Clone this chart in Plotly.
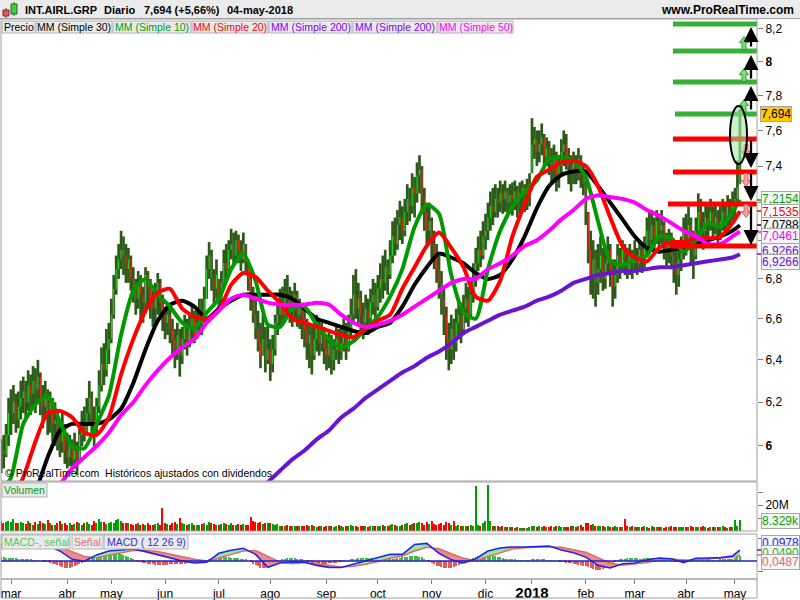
import numpy as np
import pandas as pd
import plotly.graph_objects as go

# ---------------------------------------------------------------- data
holidays = ['2017-04-14', '2017-04-17', '2017-05-01', '2017-12-25', '2017-12-26',
            '2018-01-01', '2018-03-30', '2018-04-02', '2018-05-01']
dates = [d for d in pd.bdate_range('2017-02-23', '2018-05-04')
         if d.strftime('%Y-%m-%d') not in holidays]

month_labels = ['mar', 'abr', 'may', 'jun', 'jul', 'ago', 'sep', 'oct', 'nov', 'dic',
                '<span style="font-size:15px"><b>2018</b></span>', 'feb', 'mar', 'abr', 'may']

close = [
    5.98, 5.96, 6.05, 6.15,
    6.15, 6.20, 6.12, 6.18, 6.22, 6.25, 6.20, 6.28, 6.24, 6.30, 6.26, 6.32, 6.22, 6.18, 6.24, 6.15, 6.20, 6.10, 6.12, 6.05, 6.02, 6.08, 5.98,
    5.95, 6.00, 5.94, 5.98, 5.92, 6.05, 6.10, 6.06, 6.15, 6.22, 6.12, 6.08, 6.18, 6.28, 6.38, 6.35, 6.45, 6.50,
    6.62, 6.75, 6.85, 6.90, 6.95, 6.92, 6.85, 6.90, 6.80, 6.75, 6.70, 6.78, 6.72, 6.68, 6.82, 6.75, 6.70, 6.65, 6.72, 6.78, 6.68, 6.62,
    6.58, 6.62, 6.55, 6.50, 6.45, 6.52, 6.42, 6.50, 6.56, 6.48, 6.55, 6.60, 6.52, 6.58, 6.65, 6.60, 6.70, 6.85, 6.92, 6.80, 6.75, 6.82,
    6.70, 6.78, 6.88, 6.85, 6.95, 6.98, 6.92, 7.00, 6.95, 6.90, 6.98, 6.88, 6.80, 6.70, 6.62, 6.55, 6.48, 6.42, 6.50, 6.40, 6.45,
    6.38, 6.45, 6.58, 6.62, 6.68, 6.62, 6.72, 6.70, 6.65, 6.68, 6.72, 6.62, 6.66, 6.60, 6.55, 6.48, 6.52, 6.42, 6.50, 6.55, 6.48, 6.52, 6.45,
    6.42, 6.48, 6.40, 6.45, 6.50, 6.44, 6.48, 6.52, 6.45, 6.55, 6.62, 6.72, 6.65, 6.70, 6.62, 6.58, 6.65, 6.60, 6.68, 6.72, 6.66,
    6.75, 6.80, 6.78, 6.86, 6.82, 6.92, 7.02, 6.98, 7.08, 7.12, 7.05, 7.15, 7.22, 7.18, 7.28, 7.25, 7.35, 7.38, 7.22, 7.15, 7.05, 7.10,
    6.98, 6.92, 6.85, 6.78, 6.70, 6.62, 6.50, 6.45, 6.55, 6.48, 6.58, 6.62, 6.55, 6.65, 6.70, 6.62, 6.72, 6.80, 6.88, 6.95, 6.92, 7.02,
    7.05, 7.12, 7.18, 7.15, 7.22, 7.20, 7.25, 7.22, 7.26, 7.20, 7.24, 7.22, 7.26, 7.21, 7.25, 7.28, 7.24, 7.27, 7.30,
    7.52, 7.55, 7.48, 7.52, 7.56, 7.45, 7.50, 7.42, 7.38, 7.45, 7.35, 7.40, 7.48, 7.52, 7.45, 7.40, 7.36, 7.42, 7.38, 7.44, 7.35, 7.30,
    7.15, 6.95, 6.82, 6.90, 6.78, 6.85, 6.92, 6.80, 6.88, 6.95, 6.85, 6.76, 6.82, 6.92, 6.88, 6.95, 6.90, 6.85, 6.92, 6.88,
    6.92, 6.88, 6.95, 6.90, 6.96, 7.05, 7.00, 7.08, 7.02, 7.10, 7.05, 7.08, 6.98, 6.95, 7.00, 6.92, 6.88, 6.82, 6.90, 6.95, 7.05,
    7.00, 7.08, 6.98, 6.92, 7.05, 7.15, 7.10, 7.05, 7.12, 7.10, 7.15, 7.08, 7.12, 7.06, 7.10, 7.15, 7.12, 7.18, 7.16, 7.20,
    7.22, 7.282, 7.694,
]
high = [
    6.03, 6.05, 6.10, 6.22,
    6.26, 6.28, 6.24, 6.25, 6.30, 6.32, 6.30, 6.35, 6.33, 6.37, 6.36, 6.40, 6.34, 6.28, 6.30, 6.26, 6.25, 6.22, 6.20, 6.16, 6.12, 6.15, 6.10,
    6.06, 6.05, 6.03, 6.06, 6.02, 6.10, 6.16, 6.18, 6.22, 6.30, 6.25, 6.18, 6.22, 6.35, 6.46, 6.48, 6.55, 6.58,
    6.70, 6.82, 6.92, 6.98, 7.05, 7.02, 6.98, 6.96, 6.92, 6.86, 6.80, 6.84, 6.82, 6.76, 6.86, 6.84, 6.80, 6.74, 6.78, 6.83, 6.80, 6.72,
    6.66, 6.68, 6.65, 6.60, 6.55, 6.58, 6.55, 6.56, 6.62, 6.60, 6.62, 6.66, 6.64, 6.65, 6.70, 6.70, 6.76, 6.92, 6.99, 6.95, 6.85, 6.90,
    6.80, 6.84, 6.95, 6.98, 7.00, 7.06, 7.04, 7.05, 7.03, 7.00, 7.04, 6.98, 6.90, 6.84, 6.76, 6.70, 6.64, 6.58, 6.62, 6.56, 6.58,
    6.50, 6.52, 6.62, 6.70, 6.75, 6.76, 6.80, 6.82, 6.76, 6.74, 6.78, 6.74, 6.70, 6.68, 6.65, 6.60, 6.58, 6.56, 6.58, 6.62, 6.60, 6.58, 6.56,
    6.52, 6.55, 6.52, 6.50, 6.57, 6.55, 6.56, 6.60, 6.58, 6.62, 6.70, 6.82, 6.85, 6.78, 6.74, 6.68, 6.72, 6.70, 6.75, 6.80, 6.78,
    6.82, 6.88, 6.92, 6.95, 6.90, 7.00, 7.10, 7.12, 7.16, 7.21, 7.18, 7.22, 7.30, 7.28, 7.36, 7.34, 7.42, 7.46, 7.40, 7.28, 7.18, 7.20,
    7.12, 7.05, 6.98, 6.92, 6.84, 6.76, 6.66, 6.58, 6.62, 6.60, 6.65, 6.70, 6.68, 6.72, 6.78, 6.76, 6.80, 6.88, 6.96, 7.02, 7.05, 7.10,
    7.14, 7.20, 7.26, 7.28, 7.30, 7.28, 7.32, 7.30, 7.32, 7.28, 7.30, 7.31, 7.32, 7.29, 7.31, 7.32, 7.30, 7.33, 7.36,
    7.67, 7.62, 7.60, 7.60, 7.64, 7.58, 7.56, 7.54, 7.50, 7.52, 7.48, 7.46, 7.55, 7.60, 7.58, 7.50, 7.46, 7.48, 7.46, 7.50, 7.46, 7.40,
    7.32, 7.15, 7.05, 7.00, 6.95, 6.98, 7.02, 6.96, 6.95, 7.02, 6.98, 6.90, 6.90, 6.98, 6.96, 7.00, 6.98, 6.96, 6.98, 6.95,
    7.00, 6.96, 7.00, 6.98, 7.02, 7.12, 7.15, 7.16, 7.12, 7.16, 7.14, 7.16, 7.10, 7.04, 7.06, 7.04, 6.98, 6.95, 6.98, 7.02, 7.12,
    7.14, 7.18, 7.12, 7.05, 7.12, 7.25, 7.22, 7.15, 7.20, 7.18, 7.22, 7.18, 7.20, 7.16, 7.18, 7.22, 7.20, 7.24, 7.22, 7.26,
    7.28, 7.43, 7.72,
]
low = [
    5.88, 5.90, 5.95, 6.00,
    6.05, 6.10, 6.06, 6.08, 6.12, 6.15, 6.12, 6.16, 6.14, 6.18, 6.15, 6.20, 6.14, 6.08, 6.12, 6.05, 6.06, 6.02, 6.00, 5.98, 5.95, 5.97, 5.92,
    5.90, 5.91, 5.89, 5.90, 5.87, 5.93, 6.00, 6.02, 6.05, 6.10, 6.06, 6.00, 6.05, 6.15, 6.25, 6.28, 6.32, 6.38,
    6.48, 6.60, 6.72, 6.80, 6.85, 6.82, 6.78, 6.78, 6.74, 6.68, 6.62, 6.65, 6.60, 6.58, 6.64, 6.66, 6.60, 6.56, 6.58, 6.62, 6.60, 6.54,
    6.50, 6.52, 6.48, 6.42, 6.36, 6.40, 6.32, 6.38, 6.45, 6.42, 6.46, 6.50, 6.48, 6.50, 6.54, 6.52, 6.58, 6.70, 6.80, 6.74, 6.66, 6.70,
    6.64, 6.66, 6.75, 6.78, 6.84, 6.90, 6.86, 6.90, 6.88, 6.84, 6.88, 6.82, 6.74, 6.64, 6.58, 6.50, 6.44, 6.36, 6.42, 6.34, 6.38,
    6.30, 6.34, 6.42, 6.52, 6.56, 6.58, 6.60, 6.62, 6.58, 6.56, 6.60, 6.56, 6.55, 6.50, 6.46, 6.40, 6.36, 6.33, 6.40, 6.44, 6.42, 6.44, 6.38,
    6.35, 6.36, 6.33, 6.35, 6.40, 6.38, 6.40, 6.44, 6.40, 6.44, 6.50, 6.58, 6.60, 6.58, 6.54, 6.50, 6.55, 6.52, 6.56, 6.62, 6.60,
    6.64, 6.68, 6.70, 6.74, 6.72, 6.80, 6.88, 6.92, 6.95, 7.00, 6.98, 7.02, 7.08, 7.10, 7.14, 7.12, 7.20, 7.25, 7.15, 7.05, 6.98, 6.98,
    6.90, 6.85, 6.78, 6.70, 6.62, 6.52, 6.40, 6.35, 6.38, 6.40, 6.44, 6.50, 6.48, 6.52, 6.58, 6.56, 6.60, 6.68, 6.76, 6.84, 6.86, 6.90,
    6.95, 7.00, 7.05, 7.08, 7.12, 7.12, 7.15, 7.14, 7.15, 7.12, 7.14, 7.13, 7.16, 7.12, 7.14, 7.16, 7.15, 7.16, 7.18,
    7.36, 7.44, 7.40, 7.42, 7.46, 7.40, 7.40, 7.35, 7.30, 7.32, 7.26, 7.28, 7.34, 7.40, 7.38, 7.30, 7.26, 7.30, 7.30, 7.32, 7.28, 7.24,
    7.08, 6.88, 6.72, 6.70, 6.66, 6.72, 6.78, 6.74, 6.75, 6.82, 6.76, 6.66, 6.70, 6.78, 6.80, 6.84, 6.82, 6.80, 6.82, 6.80,
    6.84, 6.82, 6.84, 6.83, 6.85, 6.92, 6.94, 6.96, 6.95, 6.98, 6.96, 6.98, 6.90, 6.86, 6.88, 6.85, 6.78, 6.72, 6.76, 6.84, 6.90,
    6.92, 6.95, 6.88, 6.80, 6.90, 7.00, 7.02, 6.95, 7.00, 7.02, 7.05, 7.00, 7.03, 6.98, 7.00, 7.05, 7.04, 7.06, 7.08, 7.10,
    7.12, 7.20, 7.30,
]
volume_m = [
    7.5, 6.0, 6.8, 8.0,
    7.0, 9.2, 6.5, 5.8, 7.2, 6.0, 5.5, 8.0, 6.2, 5.0, 6.8, 5.5, 7.5, 6.0, 5.2, 8.2, 6.5, 5.0, 4.8, 6.0, 7.8, 5.5, 6.2,
    5.0, 6.5, 4.8, 5.5, 7.2, 6.0, 4.5, 5.8, 6.6, 5.2, 4.9, 7.5, 5.8, 9.0, 6.8, 7.0, 5.5, 6.2,
    7.0, 6.5, 8.5, 9.5, 7.8, 6.2, 5.8, 6.5, 5.2, 4.8, 5.5, 6.0, 4.5, 5.2, 4.8, 6.0, 5.0, 4.6, 5.4, 6.2, 5.0, 18.0,
    6.5, 5.2, 4.8, 6.0, 7.2, 5.5, 10.0, 6.0, 5.2, 4.8, 5.5, 6.2, 4.6, 5.0, 4.8, 5.5, 6.5, 5.0, 7.0, 6.2, 5.5, 4.8,
    4.5, 5.2, 6.0, 5.5, 4.8, 6.2, 5.0, 4.5, 5.6, 4.8, 5.2, 4.6, 5.0, 11.0, 7.5, 6.8, 6.0, 7.2, 5.5, 6.5, 5.8,
    6.0, 5.2, 4.8, 5.5, 4.2, 4.0, 3.8, 4.5, 3.6, 4.0, 3.5, 3.8, 4.2, 3.6, 3.9, 4.5, 3.8, 4.8, 3.5, 3.2, 3.6, 4.0, 3.4,
    3.8, 4.2, 3.5, 3.2, 3.9, 4.4, 3.6, 3.3, 4.0, 3.8, 5.0, 4.2, 3.6, 3.4, 3.8, 4.0, 3.5, 3.2, 3.6, 4.1, 3.9,
    4.2, 3.8, 4.5, 3.6, 4.0, 4.8, 5.2, 4.5, 4.0, 3.8, 4.6, 5.5, 6.0, 4.8, 5.2, 5.8, 6.5, 7.0, 6.2, 5.0, 6.8, 5.5,
    8.0, 5.5, 4.8, 5.2, 6.0, 4.5, 6.8, 6.0, 5.0, 8.0, 4.2, 4.5, 3.6, 4.0, 3.5, 3.8, 4.6, 4.0, 35.0, 4.5, 3.8, 6.0,
    7.8, 35.5, 8.0, 4.2, 3.5, 3.8, 3.2, 3.6, 3.0, 3.4, 2.8, 3.2, 2.6, 3.0, 2.5, 2.2, 2.0, 2.4, 2.8,
    3.5, 4.0, 3.2, 3.6, 3.0, 3.8, 3.2, 2.8, 3.5, 3.0, 3.6, 4.0, 3.2, 2.8, 3.4, 3.0, 4.2, 3.5, 3.0, 3.8, 4.5, 3.2,
    6.0, 6.5, 4.8, 5.2, 4.2, 3.8, 3.5, 4.0, 3.2, 3.6, 3.0, 3.4, 3.8, 3.2, 2.8, 3.0, 9.0, 3.5, 3.2, 3.6,
    3.4, 3.0, 2.8, 3.2, 3.5, 3.0, 2.6, 3.8, 3.2, 2.8, 3.0, 3.4, 2.6, 2.8, 3.2, 3.6, 3.0, 2.8, 3.2, 3.4, 3.0,
    3.2, 2.8, 3.5, 3.0, 3.4, 2.8, 3.0, 3.6, 3.2, 2.6, 2.8, 3.0, 3.4, 3.2, 2.8, 3.6, 3.0, 2.6, 3.2, 3.4,
    8.5, 3.6, 8.329,
]
macd_hist = [
    0.035, 0.035, 0.03, 0.03,
    0.03, 0.028, 0.025, 0.02, 0.018, 0.015, 0.015, 0.012, 0.01, 0.008, 0.006, 0.004, 0.0, -0.004, -0.008, -0.012, -0.018, -0.025, -0.032, -0.04, -0.048, -0.055, -0.06,
    -0.065, -0.062, -0.058, -0.05, -0.04, -0.03, -0.018, -0.005, 0.008, 0.02, 0.028, 0.032, 0.035, 0.04, 0.045, 0.05, 0.055, 0.06,
    0.065, 0.07, 0.07, 0.068, 0.062, 0.055, 0.045, 0.035, 0.025, 0.015, 0.005, -0.005, -0.012, -0.018, -0.022, -0.026, -0.03, -0.032, -0.034, -0.035, -0.035, -0.034,
    -0.034, -0.033, -0.032, -0.03, -0.03, -0.028, -0.027, -0.025, -0.024, -0.022, -0.02, -0.018, -0.015, -0.012, -0.008, -0.004, 0.0, 0.006, 0.014, 0.02, 0.025, 0.03,
    0.032, 0.033, 0.034, 0.033, 0.032, 0.03, 0.028, 0.026, 0.024, 0.02, 0.016, 0.01, 0.0, -0.012, -0.025, -0.038, -0.05, -0.06, -0.065, -0.065, -0.062,
    -0.055, -0.045, -0.03, -0.015, 0.0, 0.01, 0.018, 0.024, 0.028, 0.028, 0.026, 0.022, 0.016, 0.01, 0.004, -0.004, -0.01, -0.015, -0.02, -0.024, -0.026, -0.026, -0.025,
    -0.024, -0.022, -0.02, -0.018, -0.015, -0.012, -0.008, -0.004, 0.0, 0.006, 0.012, 0.018, 0.022, 0.025, 0.026, 0.027, 0.027, 0.026, 0.025, 0.024, 0.023,
    0.022, 0.022, 0.021, 0.02, 0.02, 0.02, 0.021, 0.022, 0.025, 0.028, 0.032, 0.036, 0.04, 0.043, 0.045, 0.046, 0.045, 0.04, 0.032, 0.02, 0.006, -0.008,
    -0.02, -0.032, -0.042, -0.05, -0.057, -0.062, -0.065, -0.064, -0.06, -0.054, -0.046, -0.036, -0.025, -0.014, -0.003, 0.008, 0.018, 0.028, 0.036, 0.043, 0.05, 0.054,
    0.056, 0.055, 0.052, 0.048, 0.043, 0.038, 0.032, 0.027, 0.022, 0.018, 0.015, 0.012, 0.01, 0.008, 0.007, 0.006, 0.005, 0.005, 0.006,
    0.01, 0.014, 0.016, 0.015, 0.013, 0.01, 0.008, 0.006, 0.004, 0.002, 0.0, -0.003, -0.006, -0.01, -0.014, -0.018, -0.022, -0.026, -0.03, -0.034, -0.038, -0.042,
    -0.048, -0.056, -0.064, -0.072, -0.078, -0.082, -0.08, -0.074, -0.064, -0.052, -0.038, -0.024, -0.01, 0.002, 0.012, 0.018, 0.022, 0.024, 0.025, 0.025,
    0.024, 0.023, 0.022, 0.022, 0.023, 0.025, 0.027, 0.029, 0.03, 0.03, 0.028, 0.025, 0.02, 0.014, 0.008, 0.002, -0.004, -0.008, -0.01, -0.01, -0.006,
    -0.002, 0.003, 0.008, 0.012, 0.015, 0.016, 0.016, 0.014, 0.012, 0.01, 0.009, 0.008, 0.008, 0.008, 0.009, 0.01, 0.012, 0.014, 0.016, 0.019,
    0.025, 0.035, 0.049,
]

# indicator samples, every 5 sessions (session 0 = 1 March 2017) plus the last one
ind_x = list(range(-5, 296, 5)) + [298]
ma10 = [5.78, 5.86, 6.10, 6.19, 6.23, 6.11, 6.00, 5.99, 6.10, 6.23,
        6.52, 6.74, 6.80, 6.72, 6.66, 6.58, 6.55, 6.63, 6.70, 6.85,
        6.93, 6.79, 6.57, 6.56, 6.65, 6.66, 6.57, 6.50, 6.46, 6.49,
        6.55, 6.61, 6.71, 6.85, 7.07, 7.19, 7.14, 6.82, 6.63, 6.60,
        6.85, 7.05, 7.18, 7.26, 7.32, 7.44, 7.45, 7.43, 7.34, 7.10,
        6.89, 6.87, 6.90, 6.92, 7.02, 7.01, 6.94, 7.00, 7.09, 7.07,
        7.15, 7.2154]
ma20 = [5.70, 5.76, 5.86, 6.02, 6.15, 6.16, 6.13, 6.06, 6.05, 6.13,
        6.33, 6.50, 6.64, 6.73, 6.75, 6.65, 6.61, 6.60, 6.64, 6.77,
        6.83, 6.81, 6.74, 6.68, 6.60, 6.58, 6.56, 6.54, 6.52, 6.51,
        6.55, 6.59, 6.62, 6.75, 6.86, 6.97, 7.04, 6.96, 6.86, 6.71,
        6.69, 6.79, 7.02, 7.19, 7.34, 7.38, 7.42, 7.43, 7.40, 7.29,
        7.12, 6.97, 6.91, 6.89, 6.96, 6.99, 6.99, 7.01, 7.01, 7.02,
        7.09, 7.1535]
ma30 = [5.60, 5.66, 5.72, 5.80, 5.95, 6.07, 6.10, 6.10, 6.10, 6.12,
        6.17, 6.29, 6.45, 6.59, 6.67, 6.69, 6.66, 6.60, 6.65, 6.69,
        6.72, 6.72, 6.72, 6.72, 6.70, 6.65, 6.60, 6.58, 6.56, 6.54,
        6.53, 6.56, 6.58, 6.66, 6.77, 6.86, 6.93, 6.91, 6.88, 6.83,
        6.80, 6.82, 6.90, 7.02, 7.17, 7.29, 7.35, 7.37, 7.37, 7.29,
        7.20, 7.11, 7.02, 6.96, 6.94, 6.95, 6.96, 6.98, 7.00, 7.02,
        7.05, 7.0788]
ma50 = [5.58, 5.63, 5.68, 5.73, 5.78, 5.83, 5.90, 5.95, 6.00, 6.06,
        6.14, 6.20, 6.28, 6.35, 6.41, 6.46, 6.50, 6.58, 6.64, 6.70,
        6.72, 6.70, 6.68, 6.67, 6.67, 6.67, 6.68, 6.67, 6.62, 6.58,
        6.56, 6.57, 6.59, 6.62, 6.66, 6.70, 6.74, 6.78, 6.80, 6.80,
        6.85, 6.88, 6.92, 6.97, 7.00, 7.05, 7.11, 7.16, 7.22, 7.24,
        7.23, 7.22, 7.20, 7.16, 7.13, 7.09, 7.05, 7.02, 6.98, 6.98,
        7.02, 7.0461]
ma200 = [None] * 21 + [
        5.80, 5.84, 5.89, 5.94, 5.98, 6.03, 6.07, 6.13, 6.17,
        6.22, 6.26, 6.30, 6.34, 6.37, 6.41, 6.44, 6.48, 6.53, 6.56,
        6.59, 6.62, 6.64, 6.66, 6.69, 6.71, 6.74, 6.78, 6.80, 6.82,
        6.83, 6.84, 6.84, 6.85, 6.86, 6.86, 6.87, 6.88, 6.89, 6.90,
        6.91, 6.9266]
macd = [0.150, 0.155, 0.155, 0.150, 0.140, 0.091, 0.015, -0.002, 0.055, 0.090,
        0.100, 0.110, 0.085, 0.055, 0.025, 0.000, -0.018, -0.012, 0.070, 0.097,
        0.115, 0.060, -0.058, -0.018, -0.010, -0.012, -0.040, -0.058, -0.060, -0.030,
        0.000, 0.030, 0.060, 0.060, 0.150, 0.160, 0.070, 0.010, -0.018, 0.020,
        0.090, 0.118, 0.127, 0.127, 0.130, 0.135, 0.100, 0.075, 0.035, -0.040,
        -0.064, -0.025, -0.018, 0.010, 0.027, 0.020, -0.015, 0.025, 0.027, 0.030,
        0.045, 0.0978]
signal = [0.120, 0.130, 0.140, 0.145, 0.145, 0.130, 0.085, 0.040, 0.030, 0.055,
          0.075, 0.095, 0.098, 0.085, 0.062, 0.038, 0.015, 0.000, 0.025, 0.060,
          0.090, 0.095, 0.040, -0.010, -0.025, -0.015, -0.025, -0.040, -0.055, -0.048,
          -0.030, -0.005, 0.025, 0.045, 0.090, 0.125, 0.110, 0.065, 0.025, 0.005,
          0.040, 0.080, 0.108, 0.120, 0.125, 0.130, 0.125, 0.105, 0.080, 0.030,
          -0.020, -0.040, -0.030, -0.015, 0.008, 0.018, 0.008, 0.010, 0.020, 0.025,
          0.033, 0.0487]

green_levels = [8.231, 8.066, 7.881, 7.694]
red_levels = [7.551, 7.367, 7.192, 6.970]

n = len(dates)
for arr in (close, high, low, volume_m, macd_hist):
    assert len(arr) == n, (len(arr), n)
for arr in (ma10, ma20, ma30, ma50, ma200, macd, signal):
    assert len(arr) == len(ind_x), len(arr)

# ---------------------------------------------------------------- geometry helpers
FONT = "Liberation Sans, Arial, sans-serif"
W, H = 800, 600
def PX(x): return x / W
def PY(y): return 1 - y / H

i0 = dates.index(pd.Timestamp('2017-03-01'))
xi = [k - i0 for k in range(n)]
XR = [-4.09, 305.0]
def idx_of_px(px): return XR[0] + (px - 1) / 756.0 * (XR[1] - XR[0])

tick_x, seen = [], set()
for k, d in enumerate(dates):
    key = (d.year, d.month)
    if key not in seen:
        seen.add(key)
        if d >= pd.Timestamp('2017-03-01'):
            tick_x.append(xi[k])

P_RANGE = [np.log10(5.8447), np.log10(8.2616)]
P_DOM = [PY(481), PY(19)]

fig = go.Figure()

# ---------------------------------------------------------------- price bars
bx, by = [], []
ux, uy, dxs, dys = [], [], [], []
up_flags = []
for k in range(n):
    x, lo, hi, c = xi[k], low[k], high[k], close[k]
    o = close[k - 1] if k > 0 else c
    up_flags.append(c >= o)
    bx += [x, x, None]; by += [lo, hi, None]
    ob = min(max(o, lo), hi)
    if c >= o:
        ux += [x, x, None]; uy += [ob, c, None]
    else:
        dxs += [x, x, None]; dys += [ob, c, None]
fig.add_trace(go.Scatter(x=bx, y=by, mode='lines', line=dict(color='#2C5A18', width=2.7),
                         hoverinfo='skip'))
fig.add_trace(go.Scatter(x=ux, y=uy, mode='lines', line=dict(color='#1EE01E', width=1),
                         hoverinfo='skip'))
fig.add_trace(go.Scatter(x=dxs, y=dys, mode='lines', line=dict(color='#FF2020', width=1),
                         hoverinfo='skip'))

# moving averages (legend order)
for vals, col in [(ma30, '#000000'), (ma10, '#009A00'), (ma20, '#FF0000'),
                  (ma200, '#6A14D0'), (ma50, '#FF00FF')]:
    fig.add_trace(go.Scatter(x=ind_x, y=vals, mode='lines',
                             line=dict(color=col, width=4, shape='spline', smoothing=0.6),
                             connectgaps=False, hoverinfo='skip'))

# drawn horizontal levels
for lv, px0 in zip(green_levels, [673, 673, 673, 675]):
    fig.add_trace(go.Scatter(x=[idx_of_px(px0), XR[1]], y=[lv, lv], mode='lines',
                             line=dict(color='#37B037', width=5), hoverinfo='skip'))
for lv, px0 in zip(red_levels, [673, 673, 668, 670]):
    fig.add_trace(go.Scatter(x=[idx_of_px(px0), XR[1]], y=[lv, lv], mode='lines',
                             line=dict(color='#FF0000', width=5), hoverinfo='skip'))

# ---------------------------------------------------------------- volume
vcol = ['#00A000' if u else '#FF0000' for u in up_flags]
fig.add_trace(go.Bar(x=xi, y=volume_m, marker=dict(color=vcol, line=dict(width=0)),
                     width=0.55, yaxis='y2', hoverinfo='skip'))

# ---------------------------------------------------------------- MACD
runs = []
cur = [(ind_x[0], macd[0], signal[0])]
sgn = macd[0] >= signal[0]
for k in range(1, len(ind_x)):
    s = macd[k] >= signal[k]
    if s != sgn:
        d0 = macd[k - 1] - signal[k - 1]; d1 = macd[k] - signal[k]
        t = d0 / (d0 - d1)
        xc = ind_x[k - 1] + t * (ind_x[k] - ind_x[k - 1])
        yc = macd[k - 1] + t * (macd[k] - macd[k - 1])
        cur.append((xc, yc, yc)); runs.append((sgn, cur))
        cur = [(xc, yc, yc)]; sgn = s
    cur.append((ind_x[k], macd[k], signal[k]))
runs.append((sgn, cur))
for pos, pts in runs:
    px_ = [p[0] for p in pts] + [p[0] for p in reversed(pts)]
    py_ = [p[1] for p in pts] + [p[2] for p in reversed(pts)]
    fig.add_trace(go.Scatter(x=px_, y=py_, mode='lines', fill='toself',
                             fillcolor='#98E898' if pos else '#EC8C8C',
                             line=dict(width=0), yaxis='y3', hoverinfo='skip'))
hcol = ['#3CC03C' if v >= 0 else '#E05A5A' for v in macd_hist]
fig.add_trace(go.Bar(x=xi, y=macd_hist, marker=dict(color=hcol, line=dict(width=0)),
                     width=0.45, yaxis='y3', hoverinfo='skip'))
fig.add_trace(go.Scatter(x=ind_x, y=signal, mode='lines', yaxis='y3',
                         line=dict(color='#E06A6A', width=1.5), hoverinfo='skip'))
fig.add_trace(go.Scatter(x=ind_x, y=macd, mode='lines', yaxis='y3',
                         line=dict(color='#2424E8', width=1.6), hoverinfo='skip'))

# ---------------------------------------------------------------- layout / axes
price_ticks = [6, 6.2, 6.4, 6.6, 6.8, 7, 7.2, 7.4, 7.6, 7.8, 8, 8.2]
price_text = ['<b>6</b>', '6,2', '6,4', '6,6', '6,8', '7', '7,2', '7,4', '7,6', '7,8', '<b>8</b>', '8,2']
tickfont = dict(family=FONT, size=12, color='#000000')
fig.update_layout(
    width=W, height=H, margin=dict(l=0, r=0, t=0, b=0),
    paper_bgcolor='white', plot_bgcolor='white', showlegend=False,
    barmode='overlay', bargap=0,
    xaxis=dict(domain=[PX(1), PX(757)], range=XR, anchor='y3', tickvals=tick_x,
               ticktext=month_labels, ticks='outside', ticklen=4, tickcolor='#808080',
               showgrid=False, zeroline=False, showline=False, tickfont=tickfont),
    yaxis=dict(type='log', domain=P_DOM, range=P_RANGE, side='right', anchor='x',
               tickvals=price_ticks, ticktext=price_text, ticks='outside', ticklen=5,
               tickcolor='#808080', showgrid=False, zeroline=False, showline=False,
               tickfont=tickfont),
    yaxis2=dict(domain=[PY(531), PY(482)], range=[0, 37.7], side='right', anchor='x',
                tickvals=[10, 20, 30], ticktext=['', '20M', ''], ticks='outside', ticklen=5,
                tickcolor='#808080', showgrid=False, zeroline=False, showline=False,
                tickfont=tickfont),
    yaxis3=dict(domain=[PY(579), PY(534)], range=[-0.164, 0.245], side='right', anchor='x',
                tickvals=[-0.1, 0.2], ticktext=['', ''], ticks='outside', ticklen=5,
                tickcolor='#808080', showgrid=False, zeroline=False, showline=False),
)

shapes = []
def rect(x0, y0, x1, y1, fill=None, line='#A0A0A0', lw=1):
    shapes.append(dict(type='rect', xref='paper', yref='paper', x0=PX(x0), x1=PX(x1),
                       y0=PY(y1), y1=PY(y0), fillcolor=fill if fill else 'rgba(0,0,0,0)',
                       line=dict(color=line, width=lw), layer='above'))
def hline(x0, x1, y, color, lw=1):
    shapes.append(dict(type='line', xref='paper', yref='paper', x0=PX(x0), x1=PX(x1),
                       y0=PY(y), y1=PY(y), line=dict(color=color, width=lw), layer='above'))
def vline(x, y0, y1, color, lw=1):
    shapes.append(dict(type='line', xref='paper', yref='paper', x0=PX(x), x1=PX(x),
                       y0=PY(y0), y1=PY(y1), line=dict(color=color, width=lw), layer='above'))

# title bar
rect(0, 0, 800, 18, fill='#EBEBEB', line='#EBEBEB', lw=0)
hline(0, 800, 18.5, '#A0A0A0')
# icon
vline(6, 8, 18, '#803030', 1); rect(3, 10, 9, 16, fill='#E05858', line='#803030')
vline(14, 2, 16, '#306030', 1); rect(11, 4, 17, 14, fill='#40D040', line='#306030')
# panels
rect(1, 19, 757, 481); rect(1, 482, 757, 531); rect(1, 534, 757, 579); rect(1, 579, 757, 598)
# MACD zero line
shapes.append(dict(type='line', xref='paper', yref='y3', x0=PX(1), x1=PX(757), y0=0, y1=0,
                   line=dict(color='#2020C8', width=1.5), layer='above'))

# legend row
leg = [('Precio', 2, 35, '#000000'), ('MM (Simple 30)', 36, 112, '#000000'),
       ('MM (Simple 10)', 113, 191, '#00A000'), ('MM (Simple 20)', 192, 268, '#FF0000'),
       ('MM (Simple 200)', 269, 352, '#8000FF'), ('MM (Simple 200)', 353, 437, '#8000FF'),
       ('MM (Simple 50)', 438, 513, '#FF00FF')]
annots = []
def text(t, x, y, color='#000000', size=11, anchor='center', bold=False, **kw):
    annots.append(dict(xref='paper', yref='paper', x=PX(x), y=PY(y), text=('<b>%s</b>' % t) if bold else t,
                       showarrow=False, xanchor=anchor, yanchor='middle',
                       font=dict(family=FONT, size=size, color=color), **kw))
for t, a, b, c in leg:
    rect(a, 21, b, 33, fill='#EAEAEA', line='#B4B4B4')
    text(t, (a + b) / 2, 27.5, c, 10.5)
rect(2, 483, 47, 497, fill='#EAEAEA', line='#B4B4B4'); text('Volumen', 24.5, 490, '#00A000', 10.5)
for t, a, b, c in [('MACD-, señal', 2, 70, '#56C856'), ('Señal', 72, 103, '#E07070'),
                   ('MACD ( 12 26 9)', 104, 188, '#3030E0')]:
    rect(a, 535, b, 549, fill='#EAEAEA', line='#B4B4B4'); text(t, (a + b) / 2, 542, c, 10.5)

# title texts
text('INT.AIRL.GRP', 23, 9.5, size=11, anchor='left', bold=True)
text('Diario', 102, 9.5, size=11, anchor='left', bold=True)
text('7,694 (+5,66%)', 142, 9.5, size=11, anchor='left', bold=True)
text('04-may-2018', 225, 9.5, size=11, anchor='left', bold=True)
text('www.ProRealTime.com', 796, 9.5, size=12, anchor='right', bold=True)
text('©\u00a0ProRealTime.com\u00a0\u00a0Históricos ajustados con dividendos', 3, 473, size=10.5, anchor='left')

# right-hand value boxes
def vbox(t, cy, color, bg='#F6F6F6', x0=761):
    annots.append(dict(xref='paper', yref='paper', x=PX(x0), y=PY(cy), text=t, showarrow=False,
                       xanchor='left', yanchor='middle', font=dict(family=FONT, size=12, color=color),
                       bgcolor=bg, bordercolor='#A8A8A8', borderwidth=1, borderpad=0))
for y_, c in [(200, '#00A000'), (211, '#FF0000'), (225, '#000000'), (232, '#FF00FF'), (254, '#6A14D0')]:
    hline(757, 762, y_, c, 1.5)
vbox('7,694', 114, '#000000', bg='#FFC800', x0=760)
vbox('7,2154', 199, '#00A000')
vbox('7,1535', 212, '#FF0000', bg='#FFFFFF')
vbox('7,0788', 225, '#000000')
vbox('7,0461', 236, '#FF00FF')
vbox('6,9266', 251, '#6A14D0')
vbox('6,9266', 262, '#6A14D0')
vbox('8.329k', 521, '#00A000')
hline(757, 762, 550, '#2424E8', 1.5); hline(757, 762, 555, '#E06A6A', 1.5)
vbox('0,0978', 543, '#2424E8')
vbox('0,0490', 553, '#30B030')
vbox('0,0487', 562, '#E06A6A')

# black arrows between levels (pixel positions of the drawing)
for tip, tail in [(27, 48), (55, 80), (86, 111), (168, 139), (201, 172), (245, 205)]:
    annots.append(dict(xref='paper', yref='paper', x=PX(751), y=PY(tip), ax=0, ay=tail - tip,
                       axref='pixel', ayref='pixel', text='', showarrow=True, arrowhead=2,
                       arrowsize=1.3, arrowwidth=2.3, arrowcolor='#000000', standoff=0))

# signal block arrows
def block_arrow(cx, cy, up, fill, line, w=9, h=13, sw=4, hh=6):
    top, bot = cy - h / 2, cy + h / 2
    if up:
        pts = [(cx, top), (cx + w / 2, top + hh), (cx + sw / 2, top + hh), (cx + sw / 2, bot),
               (cx - sw / 2, bot), (cx - sw / 2, top + hh), (cx - w / 2, top + hh)]
    else:
        pts = [(cx, bot), (cx + w / 2, bot - hh), (cx + sw / 2, bot - hh), (cx + sw / 2, top),
               (cx - sw / 2, top), (cx - sw / 2, bot - hh), (cx - w / 2, bot - hh)]
    path = 'M ' + ' L '.join('%.5f,%.5f' % (PX(x), PY(y)) for x, y in pts) + ' Z'
    shapes.append(dict(type='path', xref='paper', yref='paper', path=path, fillcolor=fill,
                       line=dict(color=line, width=1), layer='above'))
for cy in (43, 75, 106):
    block_arrow(744, cy, True, '#7FDC7F', '#2E9E2E')
for cy in (151, 180, 211):
    block_arrow(746, cy, False, '#F2A0A0', '#E06060')

# ellipse around last bar
shapes.append(dict(type='circle', xref='paper', yref='paper', x0=PX(730), x1=PX(747),
                   y0=PY(164), y1=PY(106), fillcolor='rgba(160,228,160,0.55)',
                   line=dict(color='#000000', width=2), layer='above'))

fig.update_layout(shapes=shapes, annotations=annots)
fig.write_html('out.html', config={'displayModeBar': False},
               post_script="document.body.style.margin='0';document.body.style.overflow='hidden';")
